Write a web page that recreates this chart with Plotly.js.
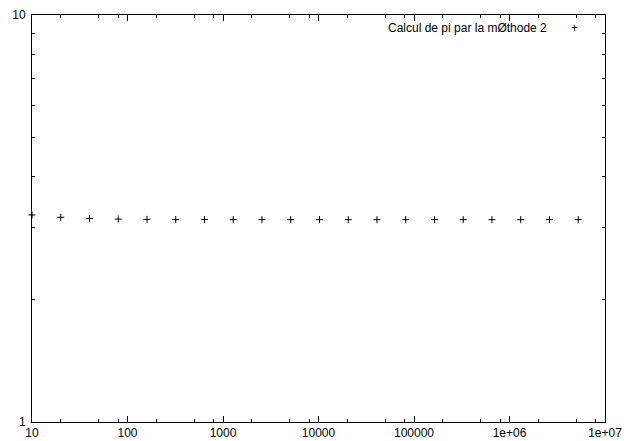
<!DOCTYPE html>
<html>
<head>
<meta charset="utf-8">
<script src="https://cdn.plot.ly/plotly-3.0.1.min.js"></script>
<style>html,body{margin:0;padding:0;background:#fff}#chart{width:624px;height:441px}</style>
</head>
<body>
<div id="chart"></div>
<script>
// Number of terms used (x) and the computed value of pi (y)
const nTerms = [10, 20, 40, 80, 160, 320, 640, 1280, 2560, 5120, 10240, 20480, 40960, 81920,
  163840, 327680, 655360, 1310720, 2621440, 5242880];
const piValues = [3.226, 3.184, 3.162, 3.152, 3.147, 3.144, 3.143, 3.1423, 3.1420, 3.1418,
  3.1417, 3.1416, 3.1416, 3.1416, 3.1416, 3.1416, 3.1416, 3.1416, 3.1416, 3.1416];
const seriesName = "Calcul de pi par la m\u00D8thode 2";

const xTickVals = [10, 100, 1000, 10000, 100000, 1e6, 1e7];
const xTickText = ["10", "100", "1000", "10000", "100000", "1e+06", "1e+07"];
const yTickVals = [1, 10];
const yTickText = ["1", "10"];
const xMinorVals = [];
[10, 100, 1000, 10000, 100000, 1e6].forEach(d => [2, 5, 8].forEach(m => xMinorVals.push(d * m)));
const yMinorVals = [2, 3, 4, 5, 6, 7, 8, 9];

const font = {family: "Liberation Sans, Arial, sans-serif", size: 12, color: "black"};

const trace = {
  x: nTerms, y: piValues, type: "scatter", mode: "markers", name: seriesName,
  marker: {symbol: "cross-thin", size: 5, line: {width: 1, color: "black"}, color: "black"},
  showlegend: false, cliponaxis: false
};

const axisCommon = {
  type: "log", showgrid: false, zeroline: false, showline: true, linecolor: "black", linewidth: 1,
  mirror: "ticks", ticks: "inside", ticklen: 6, tickwidth: 1, tickcolor: "black",
  tickmode: "array", tickfont: font
};

const layout = {
  width: 624, height: 441,
  margin: {l: 32, r: 19, t: 15, b: 19},
  paper_bgcolor: "#fff", plot_bgcolor: "#fff",
  font: font,
  xaxis: Object.assign({}, axisCommon, {
    range: [1, 7], tickvals: xTickVals, ticktext: xTickText, ticklabelstandoff: 0,
    minor: {tickmode: "array", tickvals: xMinorVals, ticks: "inside", ticklen: 3, tickcolor: "black", showgrid: false}
  }),
  yaxis: Object.assign({}, axisCommon, {
    range: [0, 1], tickvals: yTickVals, ticktext: yTickText, ticklabelstandoff: 3,
    minor: {tickmode: "array", tickvals: yMinorVals, ticks: "inside", ticklen: 3, tickcolor: "black", showgrid: false}
  }),
  annotations: [
    {xref: "paper", yref: "paper", x: 0.902, y: 0.968, xanchor: "right", yanchor: "middle",
     text: seriesName, showarrow: false, font: font},
    {xref: "paper", yref: "paper", x: 0.946, y: 0.968, xanchor: "center", yanchor: "middle",
     text: "+", showarrow: false, font: font}
  ]
};

Plotly.newPlot("chart", [trace], layout, {staticPlot: true, displayModeBar: false});
</script>
</body>
</html>
